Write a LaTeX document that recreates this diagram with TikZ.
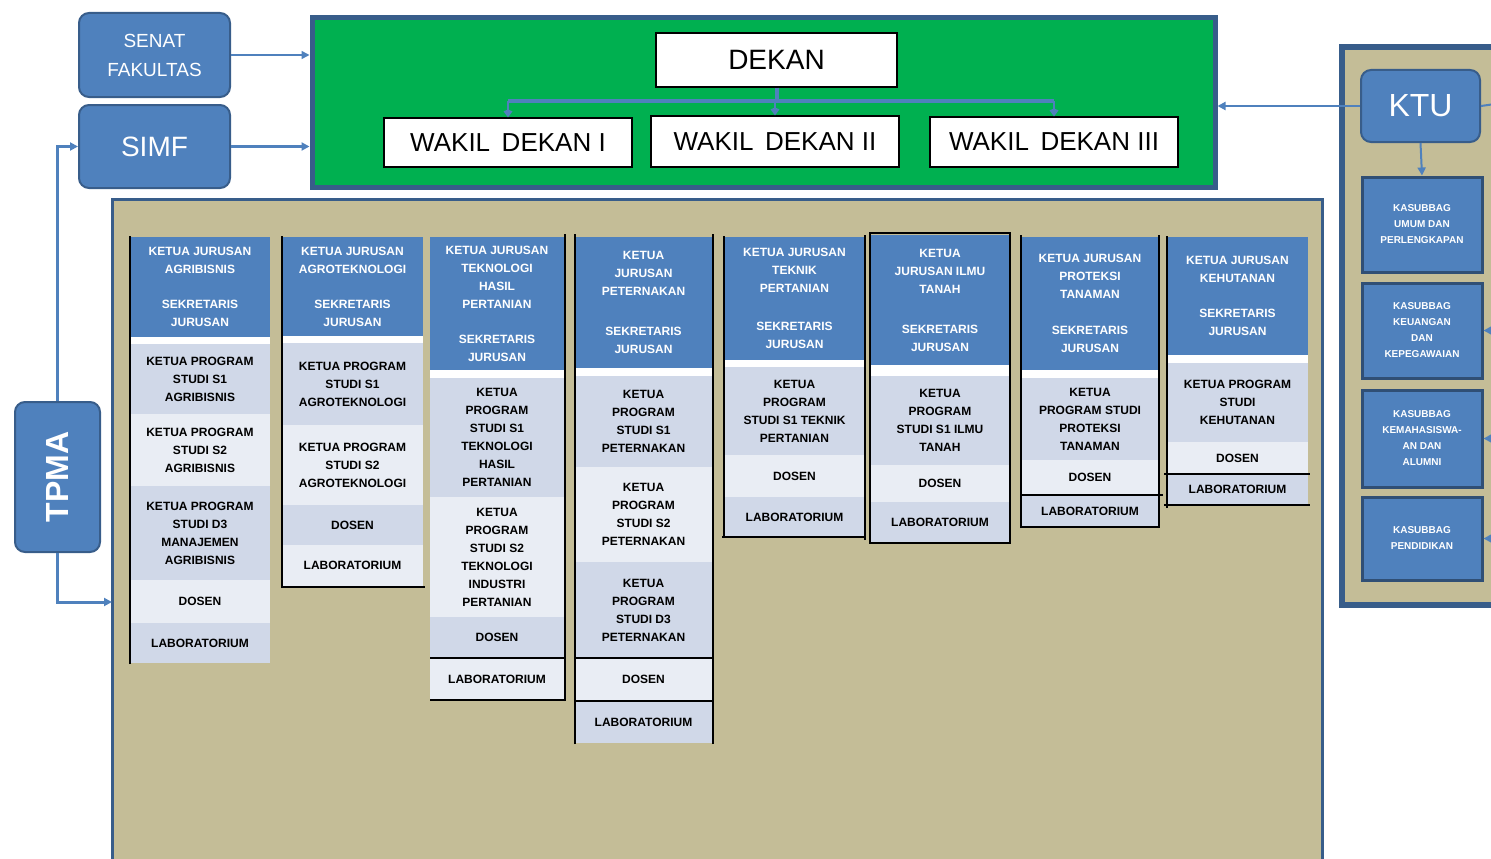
\documentclass[tikz,border=0pt]{standalone}
\usepackage{fontspec}
\setmainfont{Liberation Sans}
\usetikzlibrary{arrows.meta}

\definecolor{boxblue}{HTML}{4F81BD}
\definecolor{edgeblue}{HTML}{385D8A}
\definecolor{deangreen}{HTML}{00B050}
\definecolor{khaki}{HTML}{C4BD97}
\definecolor{rowa}{HTML}{D0D8E8}
\definecolor{rowb}{HTML}{E9EDF4}

\tikzset{
  unit/.style={rounded corners=10pt, fill=boxblue, draw=edgeblue, line width=2pt, text=white, inner sep=0pt, align=center},
  whitebox/.style={fill=white, draw=black, line width=1.2pt, inner sep=0pt},
  head/.style={fill=boxblue, text=white, font=\bfseries\fontsize{12}{18}\selectfont, align=center, inner sep=0pt},
  cell/.style={text=black, font=\bfseries\fontsize{12}{18}\selectfont, align=center, inner sep=0pt},
  subunit/.style={fill=boxblue, draw=edgeblue!85!black, line width=3pt, text=white, font=\bfseries\fontsize{10}{16}\selectfont, align=center, inner sep=0pt},
  link/.style={draw=boxblue, line width=2pt, -{Triangle[length=8pt,width=8pt]}},
  bus/.style={draw=boxblue, line width=4pt},
  rule/.style={black, line width=2pt},
}

\begin{document}
\begin{tikzpicture}[x=1pt,y=-1pt]
    \useasboundingbox (0,0) rectangle (1491,859);

    % Faculty panel and KTU panel
    \node[fill=khaki, draw=edgeblue, line width=3pt, minimum width=1210, minimum height=676] (fakultas) at (717,537) {};
    \node[fill=khaki, draw=edgeblue, line width=6pt, minimum width=163, minimum height=558] (ktupanel) at (1423.5,326) {};

    % Dean block
    \node[fill=deangreen, draw=edgeblue, line width=5pt, minimum width=903, minimum height=169] (dekanat) at (763.5,102.5) {};
    \node[whitebox, minimum width=241, minimum height=54, font=\fontsize{28}{30}\selectfont] (dekan) at (776.5,60) {DEKAN};
    \node[whitebox, minimum width=248, minimum height=49, font=\fontsize{26}{28}\selectfont] (w1) at (508,142.5) {WAKIL\, DEKAN I};
    \node[whitebox, minimum width=248, minimum height=51, font=\fontsize{26}{28}\selectfont] (w2) at (775,141.5) {WAKIL\, DEKAN II};
    \node[whitebox, minimum width=248, minimum height=50, font=\fontsize{26}{28}\selectfont] (w3) at (1054,142) {WAKIL\, DEKAN III};

    % Units left
    \node[unit, minimum width=151, minimum height=84, font=\fontsize{19}{29}\selectfont] (senat) at (154.5,55) {SENAT\\FAKULTAS};
    \node[unit, minimum width=151, minimum height=83, font=\fontsize{28}{30}\selectfont] (simf) at (154.5,146.5) {SIMF};
    \node[unit, minimum width=85, minimum height=150, font=\bfseries\fontsize{32}{34}\selectfont] (tpma) at (57.5,477) {\rotatebox{90}{TPMA}};

    % KTU and sub units
    \node[unit, minimum width=119, minimum height=72, font=\fontsize{32}{34}\selectfont] (ktu) at (1420.5,106) {KTU};
    \node[subunit, minimum width=120, minimum height=95] (s1) at (1422,224.5) {KASUBBAG\\UMUM DAN\\PERLENGKAPAN};
    \node[subunit, minimum width=120, minimum height=95] (s2) at (1422,330.5) {KASUBBAG\\KEUANGAN\\DAN\\KEPEGAWAIAN};
    \node[subunit, minimum width=120, minimum height=97] (s3) at (1422,438.5) {KASUBBAG\\KEMAHASISWA-\\AN DAN\\ALUMNI};
    \node[subunit, minimum width=120, minimum height=83] (s4) at (1422,538.5) {KASUBBAG\\PENDIDIKAN};

    % Department headers
    \foreach \nm/\xa/\xb/\ya/\yb/\yc/\txt in {
        h1/130/270/237/337/344/{KETUA JURUSAN\\AGRIBISNIS\\[17pt]SEKRETARIS\\JURUSAN},
        h2/282/423/237/336/343/{KETUA JURUSAN\\AGROTEKNOLOGI\\[17pt]SEKRETARIS\\JURUSAN},
        h3/430/564/237/370/378/{KETUA JURUSAN\\TEKNOLOGI\\HASIL\\PERTANIAN\\[17pt]SEKRETARIS\\JURUSAN},
        h4/575/712/237/368/376/{KETUA\\JURUSAN\\PETERNAKAN\\[22pt]SEKRETARIS\\JURUSAN},
        h5/724/865/237/360/367/{KETUA JURUSAN\\TEKNIK\\PERTANIAN\\[20pt]SEKRETARIS\\JURUSAN},
        h6/870/1010/235/365/376/{KETUA\\JURUSAN ILMU\\TANAH\\[22pt]SEKRETARIS\\JURUSAN},
        h7/1022/1158/237/370/378/{KETUA JURUSAN\\PROTEKSI\\TANAMAN\\[18pt]SEKRETARIS\\JURUSAN},
        h8/1167/1308/237/355/363/{KETUA JURUSAN\\KEHUTANAN\\[17pt]SEKRETARIS\\JURUSAN}} {
        \fill[white] (\xa,\yb) rectangle (\xb,\yc);
        \node[head, minimum width={\xb-\xa}, minimum height={\yb-\ya}] (\nm) at ({(\xa+\xb)/2},{(\ya+\yb)/2}) {\txt};
    }

    % Study programmes, lecturers and labs
    \foreach \nm/\xa/\xb/\ya/\yb/\fc/\txt in {
        a1/130/270/344/414/rowa/{KETUA PROGRAM\\STUDI S1\\AGRIBISNIS},
        a2/130/270/414/486/rowb/{KETUA PROGRAM\\STUDI S2\\AGRIBISNIS},
        a3/130/270/486/580/rowa/{KETUA PROGRAM\\STUDI D3\\MANAJEMEN\\AGRIBISNIS},
        a4/130/270/580/623/rowb/{DOSEN},
        a5/130/270/623/663/rowa/{LABORATORIUM},
        b1/282/423/343/425/rowa/{KETUA PROGRAM\\STUDI S1\\AGROTEKNOLOGI},
        b2/282/423/425/505/rowb/{KETUA PROGRAM\\STUDI S2\\AGROTEKNOLOGI},
        b3/282/423/505/545/rowa/{DOSEN},
        b4/282/423/545/586/rowb/{LABORATORIUM},
        c1/430/564/378/497/rowa/{KETUA\\PROGRAM\\STUDI S1\\TEKNOLOGI\\HASIL\\PERTANIAN},
        c2/430/564/497/617/rowb/{KETUA\\PROGRAM\\STUDI S2\\TEKNOLOGI\\INDUSTRI\\PERTANIAN},
        c3/430/564/617/658/rowa/{DOSEN},
        c4/430/564/658/700/rowb/{LABORATORIUM},
        d1/575/712/376/467/rowa/{KETUA\\PROGRAM\\STUDI S1\\PETERNAKAN},
        d2/575/712/467/562/rowb/{KETUA\\PROGRAM\\STUDI S2\\PETERNAKAN},
        d3/575/712/562/658/rowa/{KETUA\\PROGRAM\\STUDI D3\\PETERNAKAN},
        d4/575/712/658/701/rowb/{DOSEN},
        d5/575/712/701/743/rowa/{LABORATORIUM},
        e1/724/865/367/455/rowa/{KETUA\\PROGRAM\\STUDI S1 TEKNIK\\PERTANIAN},
        e2/724/865/455/497/rowb/{DOSEN},
        e3/724/865/497/537/rowa/{LABORATORIUM},
        f1/870/1010/376/465/rowa/{KETUA\\PROGRAM\\STUDI S1 ILMU\\TANAH},
        f2/870/1010/465/502/rowb/{DOSEN},
        f3/870/1010/502/542/rowa/{LABORATORIUM},
        g1/1022/1158/378/460/rowa/{KETUA\\PROGRAM STUDI\\PROTEKSI\\TANAMAN},
        g2/1022/1158/460/495/rowb/{DOSEN},
        g3/1022/1158/495/527/rowa/{LABORATORIUM},
        k1/1167/1308/363/442/rowa/{KETUA PROGRAM\\STUDI\\KEHUTANAN},
        k2/1167/1308/442/474/rowb/{DOSEN},
        k3/1167/1308/474/505/rowa/{LABORATORIUM}} {
        \node[cell, fill=\fc, minimum width={\xb-\xa}, minimum height={\yb-\ya}] (\nm) at ({(\xa+\xb)/2},{(\ya+\yb)/2}) {\txt};
    }

    % Black rules round the columns
    \foreach \xa/\ya/\xb/\yb in {130/236/130/664, 282/236/282/588, 281/587/425/587,
        565/234/565/701, 430/658/566/658, 430/700/566/700,
        575/234/575/744, 713/234/713/744, 575/658/714/658, 575/701/714/701,
        724/236/724/538, 865/235/865/540, 722/537/866/537,
        1021/235/1021/528, 1159/235/1159/528, 1020/495/1163/495, 1020/527/1160/527,
        1167/236/1167/508, 1164/474/1310/474, 1164/505/1310/505} {
        \draw[rule] (\xa,\yb) -- (\xb,\ya);
    }
    \draw[rule] (870,233) rectangle (1010,543);

    % Connectors
    \coordinate (bus) at (776.5,101);
    \coordinate (tpin) at (112,602);
    \coordinate (ktuout) at (1495,104);
    \draw[bus] (dekan.south) -- (bus);
    \draw[bus, rounded corners=4pt] (w1.north |- bus) -- (w3.north |- bus);
    \foreach \w in {w1,w2,w3} {
        \draw[bus, line width=2.5pt, -{Kite[length=8pt,width=9pt]}] (\w.north |- bus) -- (\w.north);
    }
    \draw[link, line width=1.5pt] (senat.east) -- (senat.east -| dekanat.west);
    \draw[link, line width=2.5pt] (simf.east) -- (simf.east -| dekanat.west);
    \draw[link, line width=3pt] (tpma.north) |- (simf.west);
    \draw[link, line width=3pt] (tpma.south) |- (tpin);
    \draw[link] (ktu.west) -- (ktu.west -| dekanat.east);
    \draw[draw=boxblue, line width=2pt] (ktu.east) -- (ktuout);
    \draw[link] (ktu.south) -- (s1.north);
    \foreach \s in {s2,s3,s4} {
        \draw[link] (\s.east -| ktuout) -- (\s.east);
    }
\end{tikzpicture}
\end{document}
